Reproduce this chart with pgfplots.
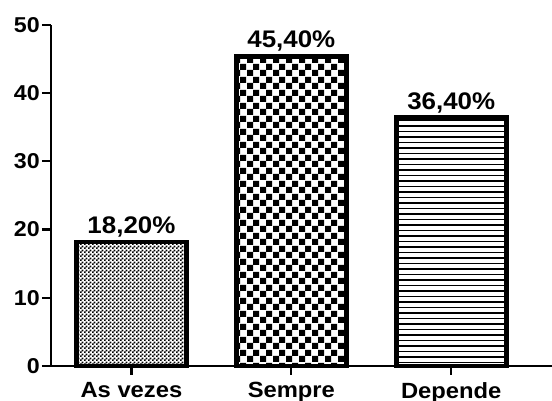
\documentclass[border=0pt]{standalone}
\usepackage{pgfplots}
\pgfplotsset{compat=1.18}
\usepackage{fontspec}
\setmainfont[FakeStretch=1.08]{Liberation Sans}
\usetikzlibrary{patterns}

\pgfdeclarepatternformonly{smallcheck}{\pgfpointorigin}{\pgfqpoint{4pt}{4pt}}{\pgfqpoint{4pt}{4pt}}{%
  \pgfpathrectangle{\pgfpointorigin}{\pgfqpoint{2.1pt}{2.1pt}}%
  \pgfpathrectangle{\pgfqpoint{2pt}{2pt}}{\pgfqpoint{2.1pt}{2.1pt}}%
  \pgfusepath{fill}}
\pgfdeclarepatternformonly{bigcheck}{\pgfpointorigin}{\pgfqpoint{13pt}{13pt}}{\pgfqpoint{13pt}{13pt}}{%
  \pgfpathrectangle{\pgfpointorigin}{\pgfqpoint{6.5pt}{6.5pt}}%
  \pgfpathrectangle{\pgfqpoint{6.5pt}{6.5pt}}{\pgfqpoint{6.5pt}{6.5pt}}%
  \pgfusepath{fill}}
\pgfdeclarepatternformonly{hlines}{\pgfqpoint{-1pt}{-1pt}}{\pgfqpoint{100pt}{1pt}}{\pgfqpoint{100pt}{5.5pt}}{%
  \pgfsetlinewidth{1.3pt}%
  \pgfpathmoveto{\pgfqpoint{0pt}{0pt}}%
  \pgfpathlineto{\pgfqpoint{100.5pt}{0pt}}%
  \pgfusepath{stroke}}

\begin{document}
\begin{tikzpicture}
\begin{axis}[
  at={(0pt,0pt)}, anchor=south west,
  scale only axis,
  width=501pt, height=341pt,
  xmin=-0.503, xmax=2.63,
  ymin=0, ymax=50,
  axis x line=bottom, axis y line=left,
  axis line style={-, line width=2.6pt, black},
  ytick={0,10,20,30,40,50},
  yticklabels={0,10,20,30,40,50},
  xtick={0,1,2},
  xticklabels={As vezes, Sempre, Depende},
  tick align=outside,
  major tick length=9pt,
  tick style={line width=2.2pt, black},
  yticklabel style={font=\bfseries\fontsize{21.5}{25}\selectfont, inner sep=2pt},
  xticklabel style={font=\bfseries\fontsize{22}{26}\selectfont, inner sep=2pt, yshift=-5pt},
  ybar, bar width=110pt, bar shift=0pt,
  nodes near coords={\pgfmathprintnumber[fixed, fixed zerofill, precision=2, use comma, assume math mode=true]{\pgfplotspointmeta}\%},
  every node near coord/.append style={font=\bfseries\fontsize{24}{28}\selectfont, anchor=south, inner sep=2.5pt, black},
  clip=false,
]
\addplot[draw=black, line width=4.5pt, fill=white, postaction={pattern=smallcheck}] coordinates {(0,18.2)};
\addplot[draw=black, line width=4.5pt, fill=white, postaction={pattern=bigcheck}] coordinates {(1,45.4)};
\addplot[draw=black, line width=4.5pt, fill=white, postaction={pattern=hlines}] coordinates {(2,36.4)};
\end{axis}
\pgfresetboundingbox
\path[use as bounding box] (-51pt,-35pt) rectangle (501pt,366pt);
\end{tikzpicture}
\end{document}
